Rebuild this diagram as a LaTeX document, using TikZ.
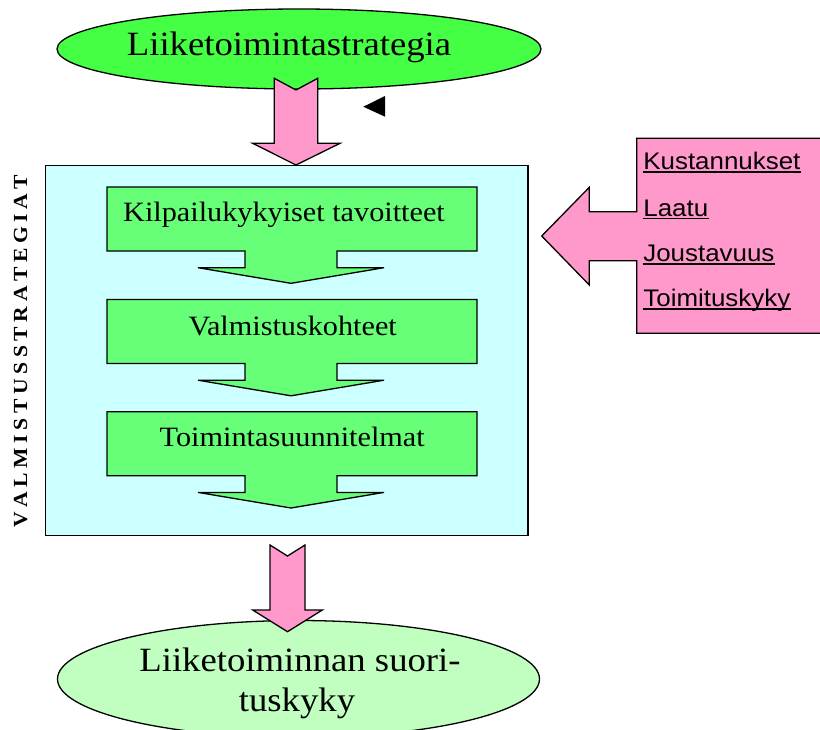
\documentclass[tikz,border=0pt]{standalone}
\usepackage{fontspec}
\setmainfont{Liberation Serif}[FakeStretch=1.08]
\newfontfamily\sansx{Liberation Sans}[FakeStretch=1.08]
\definecolor{topgreen}{HTML}{44FF44}
\definecolor{botgreen}{HTML}{C0FFC0}
\definecolor{boxgreen}{HTML}{66FF77}
\definecolor{lightblue}{HTML}{CCFFFF}
\definecolor{pinkfill}{HTML}{FF99CC}
\newcommand\lsp{\hspace{4.6pt}}
\begin{document}
\begin{tikzpicture}[x=1pt,y=-1pt, line width=1.3pt, line join=miter,
 serifbig/.style={font=\fontsize{34pt}{40pt}\selectfont, inner sep=0pt, anchor=base},
 serifmid/.style={font=\fontsize{28pt}{32pt}\selectfont, inner sep=0pt, anchor=base},
 sanslab/.style={font=\sansx\fontsize{24pt}{28pt}\selectfont, inner sep=0pt, anchor=base west},
 uline/.style={line width=1.5pt},
 blockarrow/.style={draw=black, fill=pinkfill}]
\useasboundingbox (0,0) rectangle (820,729);
\fill[white] (0,0) rectangle (820,729);
% top ellipse
\draw[fill=topgreen] (299,49) ellipse [x radius=242, y radius=40];
\node[serifbig] (top) at (289,55) {Liiketoimintastrategia};
% blue box
\draw[fill=lightblue] (45.7,165.5) rectangle (528,535.5);
% arrow 1
\draw[blockarrow] (274.3,78.3) -- (296,90) -- (317.7,78.3) -- (317.7,143.3) -- (340,143.3) -- (296,165) -- (252.7,143.3) -- (274.3,143.3) -- cycle;
% small triangle
\fill (363.3,106.7) -- (385,96) -- (385,116.7) -- cycle;
% green blocks
\foreach \t in {187,299.5,411.7} {
 \draw[fill=boxgreen] (107,\t) -- (477,\t) -- (477,\t+64) -- (337,\t+64) -- (337,\t+80.7) -- (384,\t+80.7) -- (291,\t+96.3) -- (198,\t+80.7) -- (245,\t+80.7) -- (245,\t+64) -- (107,\t+64) -- cycle;
}
\node[serifmid] (t1) at (284,221.7) {Kilpailukykyiset tavoitteet};
\node[serifmid] (t2) at (292.7,335) {Valmistuskohteet};
\node[serifmid] (t3) at (292.2,446.7) {Toimintasuunnitelmat};
% vertical label
\node[font=\bfseries\fontsize{20pt}{24pt}\selectfont, rotate=90, inner sep=0pt] (vs) at (20.7,351)
 {V\lsp A\lsp L\lsp M\lsp I\lsp S\lsp T\lsp U\lsp S\lsp S\lsp T\lsp R\lsp A\lsp T\lsp E\lsp G\lsp I\lsp A\lsp T};
% right pink box with arrow
\draw[blockarrow] (636.7,138.3) -- (824,138.3) -- (824,333.3) -- (636.7,333.3) -- (636.7,260.7) -- (589.3,260.7) -- (589.3,285) -- (541.7,236) -- (589.3,187.3) -- (589.3,211.7) -- (636.7,211.7) -- cycle;
\node[sanslab] (k) at (642.7,169.3) {Kustannukset};
\node[sanslab] (l) at (642.7,216) {Laatu};
\node[sanslab] (j) at (642.7,261.7) {Joustavuus};
\node[sanslab] (tk) at (642.7,306.7) {Toimituskyky};
\foreach \n in {k,l,j,tk} {
 \draw[uline] ([yshift=-2.5pt]\n.base west) -- ([yshift=-2.5pt]\n.base east);
}
% bottom ellipse
\draw[fill=botgreen] (298.5,679) ellipse [x radius=241, y radius=58.5];
% arrow 2
\draw[blockarrow] (270,545) -- (287.5,556) -- (305,545) -- (305,610) -- (322.3,610) -- (287.5,631.7) -- (252.7,610) -- (270,610) -- cycle;
\node[serifbig] (b1) at (300,671.7) {Liiketoiminnan suori-};
\node[serifbig] (b2) at (297,711.7) {tuskyky};
\end{tikzpicture}
\end{document}
